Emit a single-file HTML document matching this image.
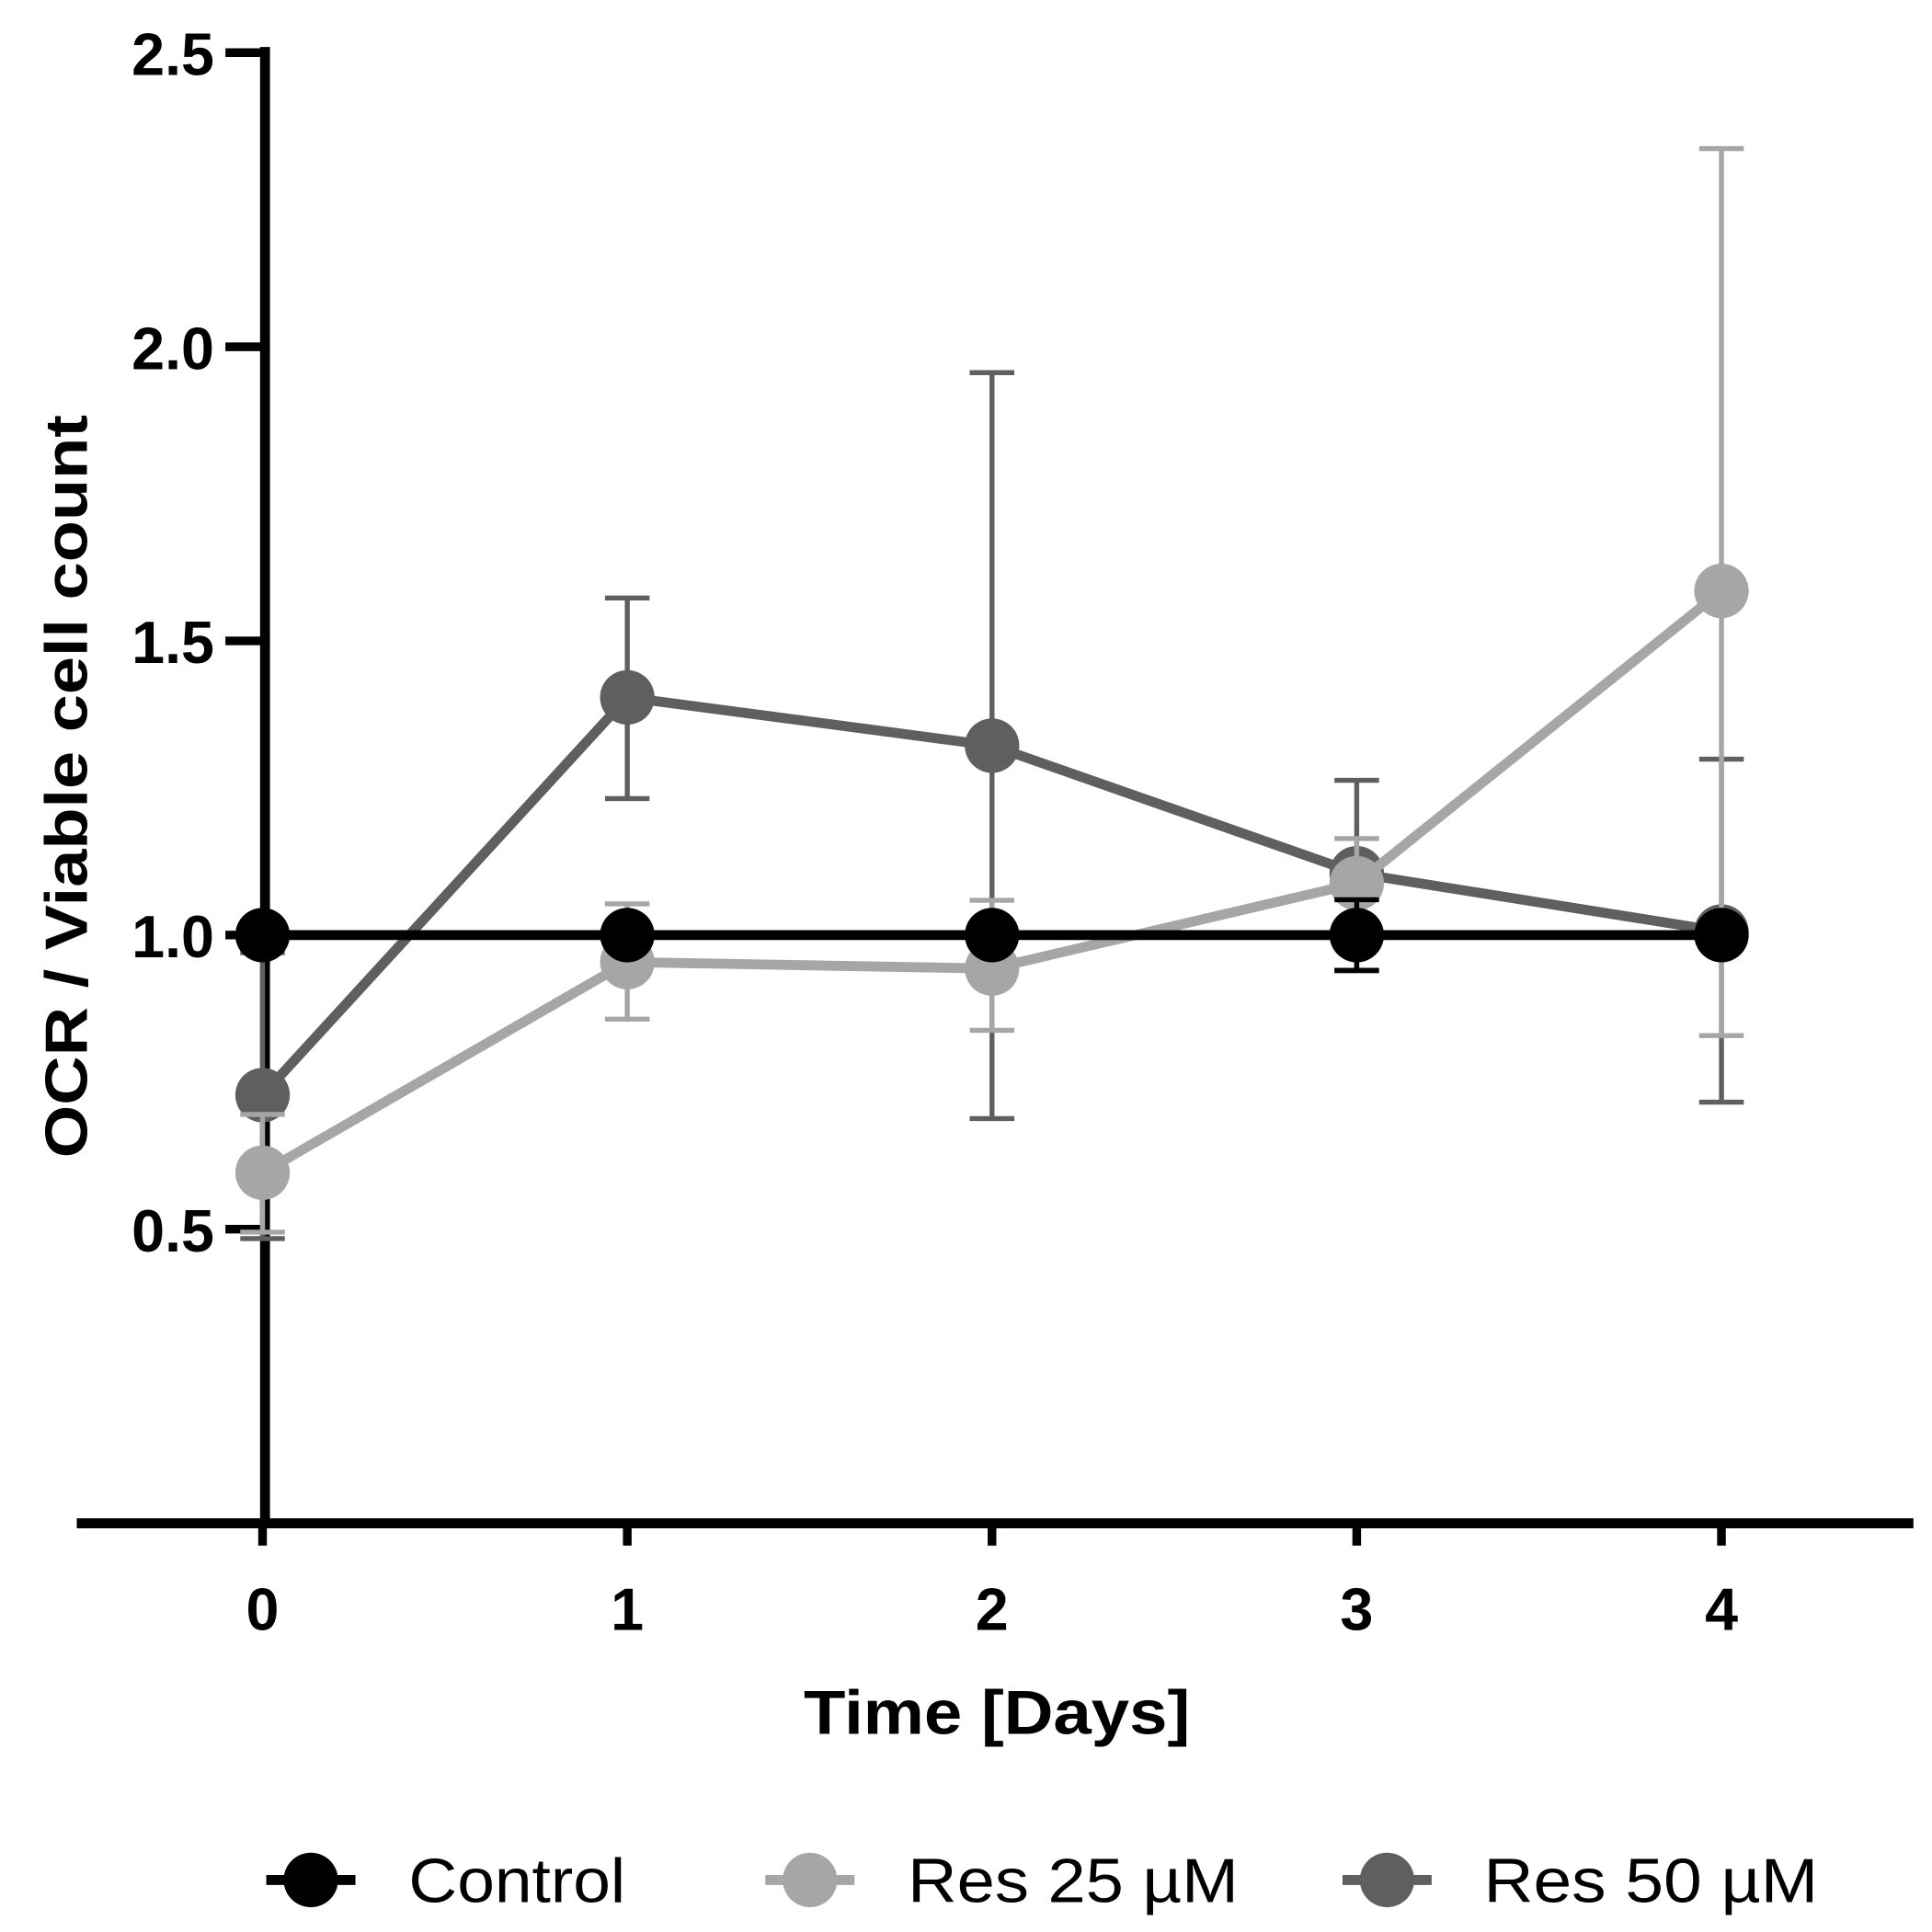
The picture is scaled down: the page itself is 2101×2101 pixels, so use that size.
<!DOCTYPE html>
<html><head><meta charset="utf-8"><style>html,body{margin:0;padding:0;background:#fff}svg{display:block}</style></head>
<body>
<svg id="chart" width="2101" height="2101" viewBox="0 0 1560 1560" xmlns="http://www.w3.org/2000/svg" font-family="Liberation Sans, Arial, sans-serif">
<g id="plot"></g>
<text transform="translate(70,635) rotate(-90)" text-anchor="middle" font-size="48" font-weight="bold" textLength="600" lengthAdjust="spacingAndGlyphs">OCR / Viable cell count</text>
<text x="805" y="1400" text-anchor="middle" font-size="50" font-weight="bold" textLength="312" lengthAdjust="spacingAndGlyphs">Time [Days]</text>
<g>
<g><line x1="215" y1="1518" x2="287" y2="1518" stroke="#000" stroke-width="8"/><circle cx="251" cy="1518" r="22" fill="#000"/><text x="330" y="1536" font-size="50" textLength="175" lengthAdjust="spacingAndGlyphs">Control</text></g>
<g><line x1="618" y1="1518" x2="690" y2="1518" stroke="#a6a6a8" stroke-width="8"/><circle cx="654" cy="1518" r="22" fill="#a6a6a8"/><text x="733" y="1536" font-size="50" textLength="267" lengthAdjust="spacingAndGlyphs">Res 25 µM</text></g>
<g><line x1="1084" y1="1518" x2="1156" y2="1518" stroke="#5f5f5f" stroke-width="8"/><circle cx="1120" cy="1518" r="22" fill="#5f5f5f"/><text x="1198" y="1536" font-size="50" textLength="270" lengthAdjust="spacingAndGlyphs">Res 50 µM</text></g>
</g>
</svg>
<script>
const days = [0, 1, 2, 3, 4];
const controlMean = [1, 1, 1, 1, 1];
const controlLo = [1, 1, 1, 0.94, 1];
const controlHi = [1, 1, 1, 1.06, 1];
const res25Mean = [0.596, 0.954, 0.943, 1.088, 1.585];
const res25Lo = [0.495, 0.857, 0.838, 1.02, 0.829];
const res25Hi = [0.695, 1.053, 1.059, 1.164, 2.337];
const res50Mean = [0.728, 1.404, 1.322, 1.105, 1.006];
const res50Lo = [0.484, 1.232, 0.688, 0.939, 0.716];
const res50Hi = [0.97, 1.573, 1.956, 1.263, 1.299];
const yTicks = [0.5, 1.0, 1.5, 2.0, 2.5];
const yTickLabels = ["0.5", "1.0", "1.5", "2.0", "2.5"];
const xTickLabels = ["0", "1", "2", "3", "4"];

const NS = "http://www.w3.org/2000/svg";
const plot = document.getElementById('plot');
const xS = d => 212 + d * 294.5;
const yS = v => 1230 - v * 475;
function mk(tag, attrs) { const e = document.createElementNS(NS, tag); for (const k in attrs) e.setAttribute(k, attrs[k]); plot.appendChild(e); return e; }

let ax = mk('line', {x1: 214, y1: 38, x2: 214, y2: 1233, stroke: '#000', 'stroke-width': 8});


ax = mk('line', {x1: 62, y1: 1230, x2: 1545, y2: 1230, stroke: '#000', 'stroke-width': 8});


yTicks.forEach((v, i) => {
  const t = mk('line', {x1: 182, y1: yS(v), x2: 214, y2: yS(v), stroke: '#000', 'stroke-width': 7});
  
  
  const l = mk('text', {x: 173, y: yS(v) + 18, 'text-anchor': 'end', 'font-size': 48, 'font-weight': 'bold'});
  l.textContent = yTickLabels[i];
  
  
});
days.forEach((d, i) => {
  const t = mk('line', {x1: xS(d), y1: 1230, x2: xS(d), y2: 1248, stroke: '#000', 'stroke-width': 7});
  
  
  const l = mk('text', {x: xS(d), y: 1316, 'text-anchor': 'middle', 'font-size': 48, 'font-weight': 'bold'});
  l.textContent = xTickLabels[i];
  
  
});

function series(name, mean, lo, hi, color) {
  days.forEach((d, i) => {
    const x = xS(d);
    const g = mk('path', {d: `M${x},${yS(lo[i])}V${yS(hi[i])}M${x-18},${yS(lo[i])}H${x+18}M${x-18},${yS(hi[i])}H${x+18}`, stroke: color, 'stroke-width': 4, fill: 'none'});
    
    
  });
  const p = mk('polyline', {points: days.map((d, i) => xS(d) + ',' + yS(mean[i])).join(' '), stroke: color, 'stroke-width': 8, fill: 'none'});
  
  
  days.forEach((d, i) => {
    const c = mk('circle', {cx: xS(d), cy: yS(mean[i]), r: 22, fill: color});
    
    
  });
}
series('res50', res50Mean, res50Lo, res50Hi, '#5f5f5f');
series('res25', res25Mean, res25Lo, res25Hi, '#a6a6a8');
series('control', controlMean, controlLo, controlHi, '#000');
</script>
</body></html>
